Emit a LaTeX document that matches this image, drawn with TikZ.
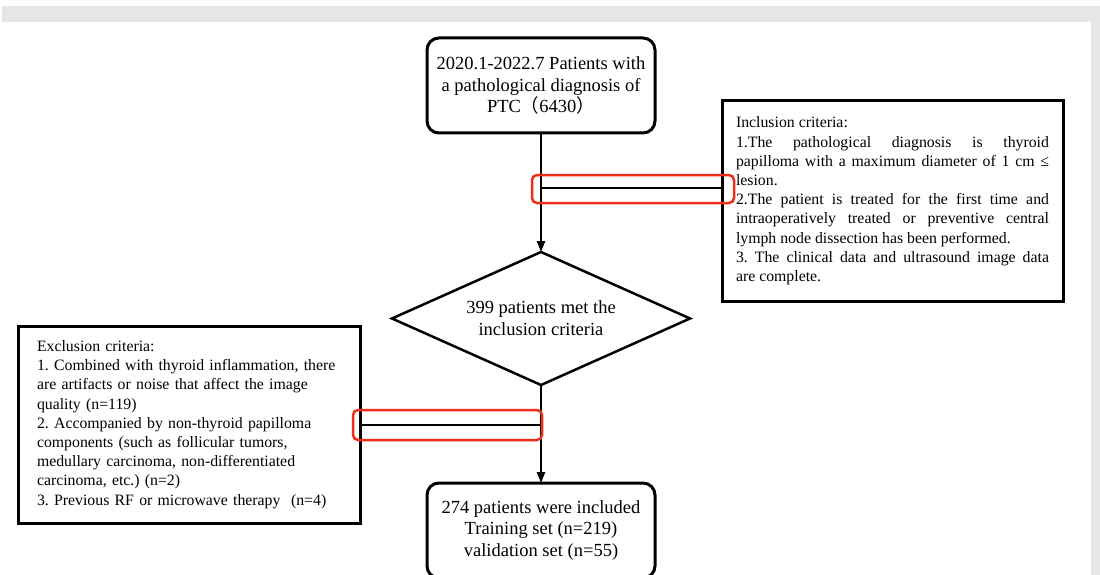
\documentclass[tikz,border=0pt]{standalone}
\usepackage{fontspec}
\setmainfont{Liberation Serif}
\newfontfamily\cjk{Noto Sans CJK SC}
\usetikzlibrary{shapes.geometric, arrows.meta, positioning}
\setlength{\parindent}{0pt}
\frenchspacing

\definecolor{pagegray}{RGB}{230,230,230}
\definecolor{markred}{RGB}{240,45,25}

\tikzset{
  flowbox/.style={draw, line width=3pt, rounded corners=12pt, minimum width=228pt,
    minimum height=95pt, align=center, font=\fontsize{18.5}{21.5}\selectfont},
  critbox/.style={draw, line width=3pt, font=\fontsize{15.8}{19.2}\selectfont},
  flowline/.style={line width=2.5pt},
  flowarrow/.style={flowline, -{Triangle[length=11pt,width=8pt]}},
  markbox/.style={draw=markred, line width=2.5pt, rounded corners=5pt}
}

\begin{document}
\begin{tikzpicture}[x=1pt,y=-1pt]
\clip (0,0) rectangle (1100,575);
\fill [white] (0,0) rectangle (1100,575);
\fill [pagegray] (2,6) rectangle (1100,22);
\fill [pagegray] (1091,22) rectangle (1100,575);

\begin{scope}[every node/.style={outer sep=0pt}]

\node [flowbox] (start) at (541,85.5)
  {2020.1-2022.7 Patients with\\a pathological diagnosis of\\PTC{\cjk（}6430{\cjk）}};

\node [draw, shape=diamond, aspect=2.24, line width=2.5pt, inner sep=0pt, minimum width=298pt,
  minimum height=133pt, align=center, font=\fontsize{18.5}{22}\selectfont]
  (meet) at (541,318.5) {399 patients met the\\inclusion criteria};

\node [flowbox] (final) at (541,530.5)
  {274 patients were included\\Training set (n=219)\\validation set (n=55)};

\node [critbox, text width=313pt, inner xsep=14pt, minimum height=200pt, align=justify]
  (incl) at (892.5,201)
  {Inclusion criteria:\\
   1.The pathological diagnosis is thyroid\linebreak
   papilloma with a maximum diameter of 1 cm ≤\linebreak
   lesion.\\
   2.The patient is treated for the first time and\linebreak
   intraoperatively treated or preventive central\linebreak
   lymph node dissection has been performed.\\
   3. The clinical data and ultrasound image data\linebreak
   are complete.};

\node [critbox, text width=304pt, inner xsep=19pt, minimum height=197pt, align=left]
  (excl) at (189,424.5)
  {Exclusion criteria:\\
   1. Combined with thyroid inflammation, there\\
   are artifacts or noise that affect the image\\
   quality (n=119)\\
   2. Accompanied by non-thyroid papilloma\\
   components (such as follicular tumors,\\
   medullary carcinoma, non-differentiated\\
   carcinoma, etc.) (n=2)\\
   3. Previous RF or microwave therapy\ \ (n=4)};

\end{scope}

% main flow
\draw [flowarrow] (start) -- (meet);
\draw [flowarrow] (meet) -- (final);

% side branches
\coordinate (incl-tap) at (541,188);
\coordinate (excl-tap) at (541,425);
\draw [flowline] (incl-tap) -- (incl-tap -| incl.west);
\draw [flowline] (excl-tap) -- (excl-tap -| excl.east);

% red marks
\foreach \xa/\ya/\xb/\yb in {532/175/734/203, 353/410/542/440}
  \draw [markbox] (\xa,\ya) rectangle (\xb,\yb);

\end{tikzpicture}
\end{document}
